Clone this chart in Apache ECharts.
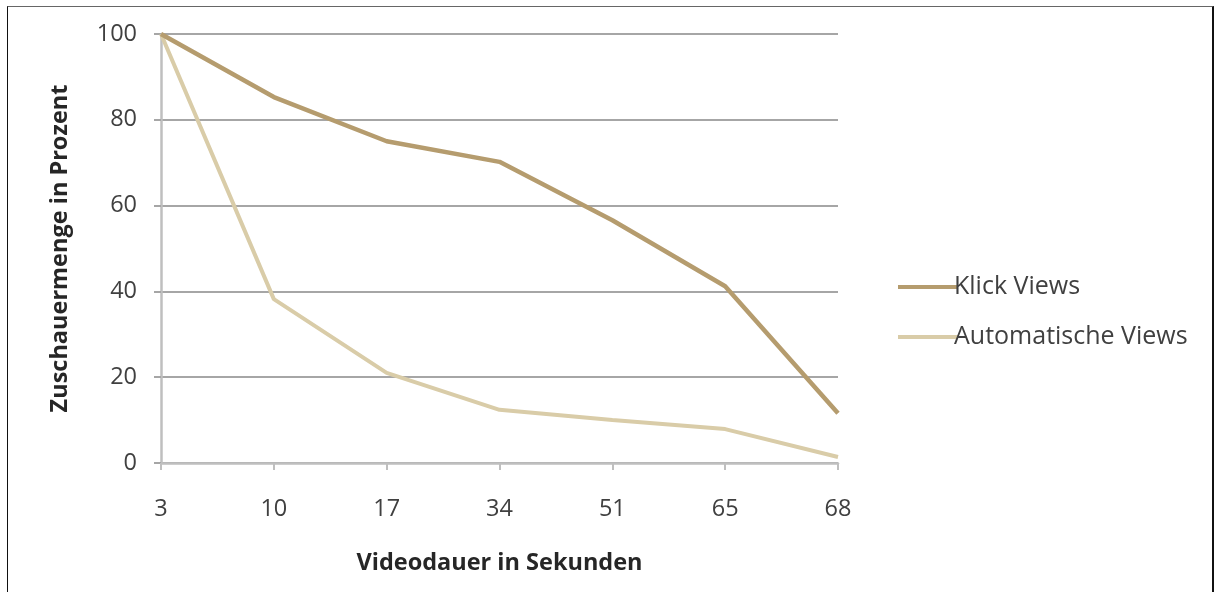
<!DOCTYPE html>
<html>
<head>
<meta charset="utf-8">
<script src="https://cdn.jsdelivr.net/npm/echarts@6/dist/echarts.min.js"></script>
<style>
html,body{margin:0;padding:0;background:#fff;}
#frame{position:absolute;left:7px;top:6px;width:1207px;height:600px;border-left:1.5px solid #111;border-right:2px solid #111;border-top:1.5px solid #666;box-sizing:border-box;}
#chart{position:absolute;left:0;top:0;width:1216px;height:592px;}
</style>
</head>
<body>
<div id="frame"></div>
<div id="chart"></div>
<script>
var categories = ['3', '10', '17', '34', '51', '65', '68'];
var klickViews = [100, 85.3, 75, 70.2, 56.6, 41.2, 11.6];
var autoViews = [100, 38.2, 21, 12.4, 10, 7.9, 1.4];
var seriesNames = ['Klick Views', 'Automatische Views'];
var yTicks = [0, 20, 40, 60, 80, 100];

var chart = echarts.init(document.getElementById('chart'));
var font = '"Open Sans", "Liberation Sans", sans-serif';
chart.setOption({
  animation: false,
  backgroundColor: 'transparent',
  grid: {left: 161, right: 378, top: 34, bottom: 129, containLabel: false},
  legend: {
    orient: 'vertical',
    left: 893,
    top: 269,
    icon: 'rect',
    itemWidth: 60,
    itemHeight: 4,
    itemGap: 24,
    data: seriesNames,
    textStyle: {fontFamily: font, fontSize: 25, lineHeight: 26, color: '#404040', padding: [0, 0, 0, -9]}
  },
  xAxis: {
    type: 'category',
    boundaryGap: false,
    data: categories,
    name: 'Videodauer in Sekunden',
    nameLocation: 'middle',
    nameGap: 88,
    nameTextStyle: {fontFamily: font, fontSize: 23.5, fontWeight: 'bold', color: '#262626'},
    axisLine: {lineStyle: {color: '#BFBFBF', width: 2.5}},
    axisTick: {show: true, length: 7, alignWithLabel: true, lineStyle: {color: '#BFBFBF', width: 2}},
    axisLabel: {fontFamily: font, fontSize: 23.5, color: '#404040', margin: 34},
    splitLine: {show: false}
  },
  yAxis: {
    type: 'value',
    min: 0,
    max: 100,
    interval: 20,
    name: 'Zuschauermenge in Prozent',
    nameLocation: 'middle',
    nameGap: 89,
    nameRotate: 90,
    nameTextStyle: {fontFamily: font, fontSize: 23.5, fontWeight: 'bold', color: '#262626'},
    axisLine: {show: true, lineStyle: {color: '#BFBFBF', width: 2.5}},
    axisTick: {show: true, length: 7, lineStyle: {color: '#A6A6A6', width: 2}},
    axisLabel: {fontFamily: font, fontSize: 23.5, color: '#404040', margin: 24},
    splitLine: {show: true, lineStyle: {color: '#A6A6A6', width: 2}}
  },
  series: [
    {
      name: seriesNames[0],
      type: 'line',
      data: klickViews,
      symbol: 'none',
      smooth: false,
      lineStyle: {color: '#B59C6E', width: 4.5},
      itemStyle: {color: '#B59C6E'},
      z: 3
    },
    {
      name: seriesNames[1],
      type: 'line',
      data: autoViews,
      symbol: 'none',
      smooth: false,
      lineStyle: {color: '#D9CCA8', width: 4},
      itemStyle: {color: '#D9CCA8'},
      z: 2
    }
  ]
});
</script>
</body>
</html>
